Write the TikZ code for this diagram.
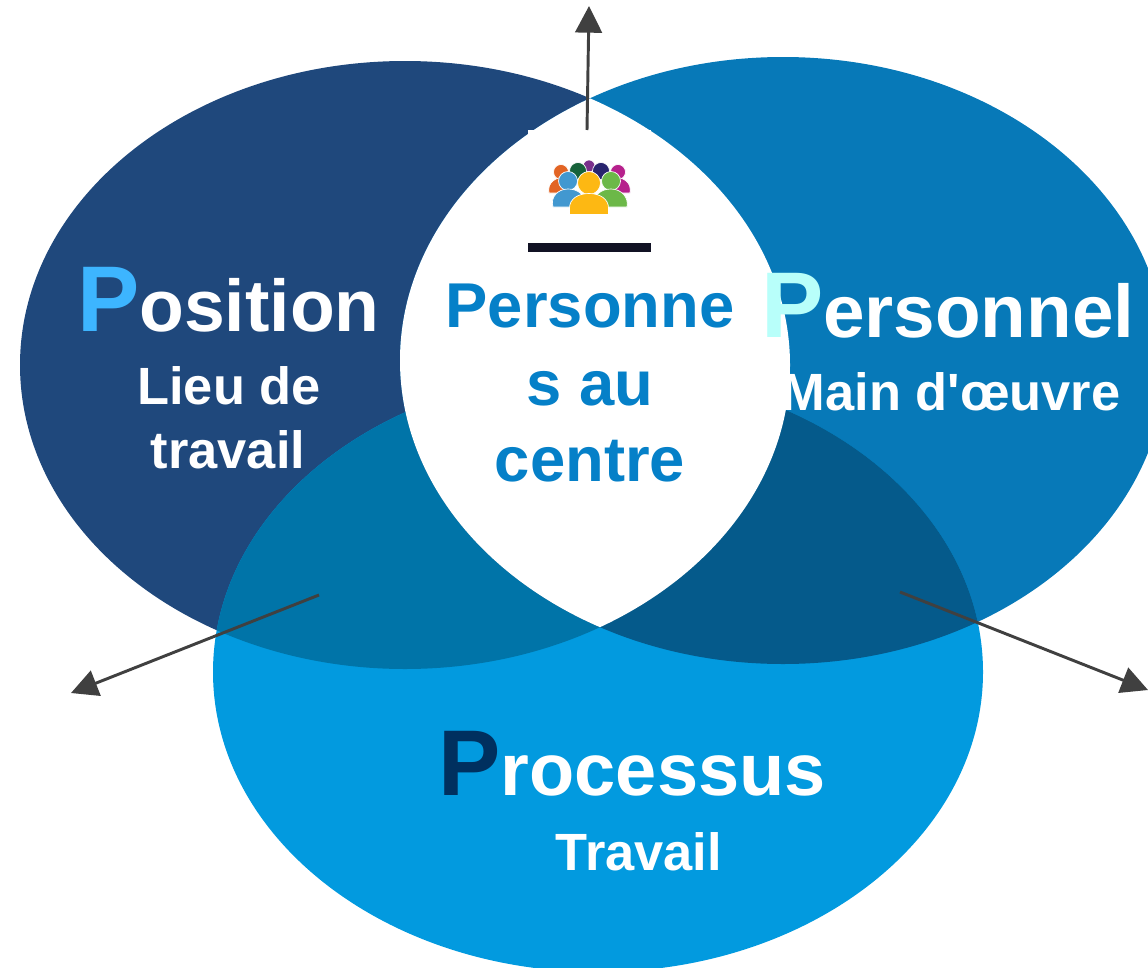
\documentclass[tikz,border=0pt]{standalone}
\usepackage{fontspec}
\setmainfont{Liberation Sans}
\newfontfamily\plainsans{Liberation Sans}
\usetikzlibrary{arrows.meta}
\definecolor{cLeft}{HTML}{1F487C}
\definecolor{cRight}{HTML}{0779B8}
\definecolor{cBottom}{HTML}{029ADF}
\definecolor{cOvL}{HTML}{0074A8}
\definecolor{cOvR}{HTML}{055A8B}
\definecolor{cText}{HTML}{0580C8}
\definecolor{cPa}{HTML}{3DB5FF}
\definecolor{cPb}{HTML}{B8FFFA}
\definecolor{cPc}{HTML}{00305F}
\definecolor{cLine}{HTML}{404040}
\definecolor{cBar}{HTML}{111224}
\newcommand{\pxfont}[1]{\fontsize{#1}{#1}\selectfont\bfseries}
\newcommand{\bigP}[3]{{\color{#1}\pxfont{70pt}P}{\pxfont{#2}#3}}
\newcommand{\ellL}{(405,365) ellipse [x radius=385,y radius=304]}
\newcommand{\ellR}{(783,360.5) ellipse [x radius=383,y radius=303.5]}
\newcommand{\ellB}{(598,672) ellipse [x radius=385,y radius=300]}
\tikzset{
  lbl/.style={anchor=base west,inner sep=0pt,outer sep=0pt,white},
  ctr/.style={anchor=base,inner sep=0pt,outer sep=0pt,cText,font=\pxfont{47.5pt}},
  sub/.style={anchor=base,inner sep=0pt,outer sep=0pt,white,font=\pxfont{39.3pt}},
  conn/.style={cLine,line width=2.2pt,-{Triangle[length=20pt,width=20pt]}},
  person/.style={draw=white,line width=0.5pt},
}
\begin{document}
\begin{tikzpicture}[x=0.75pt,y=-0.75pt]
\useasboundingbox (0,0) rectangle (1148,967);
\begin{scope}
\clip (0,0) rectangle (1148,967);
\fill[cLeft] \ellL;
\fill[cRight] \ellR;
\fill[cBottom] \ellB;
\begin{scope}\clip \ellL; \fill[cOvL] \ellB; \end{scope}
\begin{scope}\clip \ellR; \fill[cOvR] \ellB; \end{scope}
\begin{scope}\clip \ellL; \fill[white] \ellR; \end{scope}
\end{scope}
% pasted picture in the centre
\fill[white] (528,130) rectangle (651,252);
\fill[black!20] (528,242.5) rectangle (651,243.5);
\fill[cBar] (528,243) rectangle (651,252);
% people icon
\fill[person,fill={rgb,255:red,122;green,48;blue,140}] (589,166) circle (6);
\fill[person,fill={rgb,255:red,226;green,100;blue,36}] (561,172) circle (7.5);
\fill[person,fill={rgb,255:red,226;green,100;blue,36}] (549,193) .. controls (547,182) and (556,177) .. (566,177) -- (566,193) -- cycle;
\fill[person,fill={rgb,255:red,182;green,32;blue,140}] (618,172) circle (7.5);
\fill[person,fill={rgb,255:red,182;green,32;blue,140}] (630,193) .. controls (632,182) and (623,177) .. (613,177) -- (613,193) -- cycle;
\fill[person,fill={rgb,255:red,22;green,98;blue,58}] (578,171) circle (8.5);
\fill[person,fill={rgb,255:red,40;green,36;blue,110}] (601,171) circle (8.5);
\fill[person,fill={rgb,255:red,66;green,152;blue,208}] (568,181) circle (9.5);
\fill[person,fill={rgb,255:red,66;green,152;blue,208}] (553,207) .. controls (550,197) and (558,189) .. (568,189) .. controls (578,189) and (586,195) .. (586,207) -- cycle;
\fill[person,fill={rgb,255:red,108;green,184;blue,72}] (611,181) circle (9.5);
\fill[person,fill={rgb,255:red,108;green,184;blue,72}] (593,207) .. controls (593,195) and (601,189) .. (611,189) .. controls (621,189) and (629,197) .. (627,207) -- cycle;
\fill[person,fill={rgb,255:red,253;green,184;blue,19}] (589,183) circle (11.5);
\fill[person,fill={rgb,255:red,253;green,184;blue,19}] (569.5,214.5) -- (569.5,208) .. controls (569.5,199) and (578,193.5) .. (589,193.5) .. controls (600,193.5) and (608.5,199) .. (608.5,208) -- (608.5,214.5) -- cycle;
% connectors
\coordinate (upS) at (587,130);
\coordinate (upE) at (589,6);
\coordinate (leftS) at (319,595);
\coordinate (leftE) at (71,693);
\coordinate (rightS) at (900,592);
\coordinate (rightE) at (1148,690);
\draw[conn] (upS) -- (upE);
\draw[conn] (leftS) -- (leftE);
\draw[conn] (rightS) -- (rightE);
% text
\node[lbl] (position) at (77,331) {\bigP{cPa}{55pt}{osition}};
\node[sub] (lieu) at (229,404) {Lieu de};
\node[sub] (travail) at (228,468) {travail};
\node[ctr] (pers1) at (590,327) {Personne};
\node[ctr] (pers2) at (590,405) {s au};
\node[ctr] (pers3) at (590,481) {centre};
\node[lbl] (personnel) at (761,337) {\bigP{cPb}{56pt}{ersonnel}};
\node[sub] (main) at (951,410) {\plainsans Main d'œuvre};
\node[lbl] (processus) at (438.5,795) {\bigP{cPc}{55.5pt}{rocessus}};
\node[sub] (trav) at (639,870) {Travail};
\end{tikzpicture}
\end{document}
